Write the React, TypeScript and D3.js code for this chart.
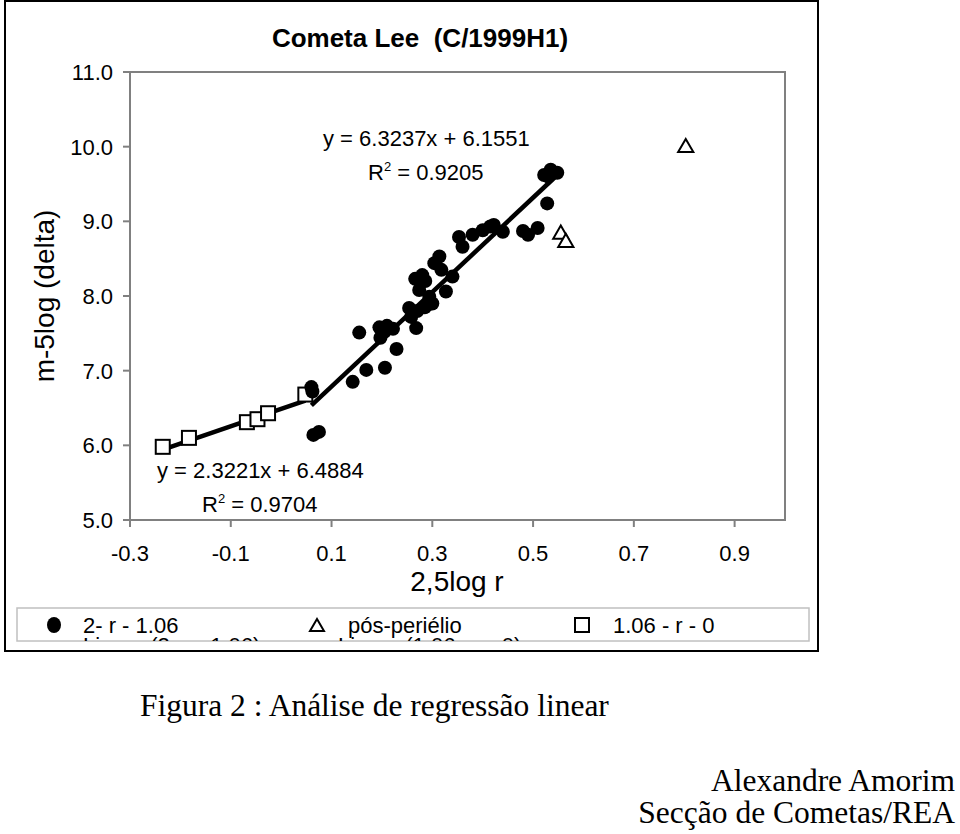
import React from "react";
import * as d3 from "d3";

const circlesX = [0.060,0.062,0.064,0.075,0.142,0.155,0.169,0.195,0.197,0.205,0.210,0.206,0.222,0.229,0.254,0.258,0.268,0.266,0.280,0.274,0.286,0.270,0.285,0.294,0.300,0.290,0.304,0.314,0.318,0.327,0.340,0.353,0.360,0.380,0.400,0.415,0.422,0.440,0.480,0.490,0.509,0.528,0.522,0.535,0.548,0.530];
const circlesY = [6.78,6.72,6.14,6.18,6.85,7.51,7.01,7.58,7.44,7.52,7.60,7.04,7.56,7.29,7.84,7.72,7.57,8.23,8.28,8.08,8.20,7.80,7.85,7.99,7.90,7.88,8.44,8.53,8.35,8.06,8.26,8.79,8.66,8.82,8.88,8.93,8.95,8.86,8.87,8.82,8.91,9.24,9.62,9.69,9.65,9.60];
const squaresX = [-0.235,-0.183,-0.068,-0.047,-0.026,0.048];
const squaresY = [5.98,6.10,6.31,6.35,6.43,6.68];
const trianglesX = [0.555,0.565,0.803];
const trianglesY = [8.84,8.73,10.0];

const fitUpper = { slope: 6.3237, intercept: 6.1551, label: "y = 6.3237x + 6.1551", r2: "0.9205" };
const fitLower = { slope: 2.3221, intercept: 6.4884, label: "y = 2.3221x + 6.4884", r2: "0.9704" };

const xTicks = [-0.3, -0.1, 0.1, 0.3, 0.5, 0.7, 0.9];
const yTicks = [5, 6, 7, 8, 9, 10, 11];

const title = "Cometa Lee  (C/1999H1)";
const xTitle = "2,5log r";
const yTitle = "m-5log (delta)";
const legendLabels = ["2- r - 1.06", "pós-periélio", "1.06 - r - 0"];
const legendLabels2 = ["Linear (2- r - 1.06)", "Linear (1.06 - r - 0)"];

const SANS = "'Liberation Sans', Arial, sans-serif";
const SERIF = "'Liberation Serif', 'Times New Roman', serif";

export default function App() {
  const left = 130, right = 785, top = 72, bottom = 520;
  const x = d3.scaleLinear().domain([-0.3, 1.0]).range([left, right]);
  const y = d3.scaleLinear().domain([5, 11]).range([bottom, top]);

  const upperExt = d3.extent(circlesX) as [number, number];
  const lowerExt = d3.extent(squaresX) as [number, number];
  const upperPath = d3.line<number>().x((v) => x(v)).y((v) => y(fitUpper.slope * v + fitUpper.intercept))(upperExt);
  const lowerPath = d3.line<number>().x((v) => x(v)).y((v) => y(fitLower.slope * v + fitLower.intercept))(lowerExt);

  const tri = d3.symbol().type(d3.symbolTriangle).size(100)();
  const triLegend = d3.symbol().type(d3.symbolTriangle).size(85)();
  const FS = 22;

  return (
    <svg width={960} height={834} style={{ position: "absolute", left: 0, top: 0, background: "#fff" }}>
      <rect x={0} y={0} width={960} height={834} fill="#fff" />
      <rect x={5} y={1} width={813} height={650} fill="none" stroke="#000" strokeWidth={2} />
      <text x={420} y={47} textAnchor="middle" fontFamily={SANS} fontWeight="bold" fontSize={26} style={{ whiteSpace: "pre" }}>{title}</text>

      <rect x={left} y={top} width={right - left} height={bottom - top} fill="none" stroke="#808080" strokeWidth={2} />
      {yTicks.map((t) => (
        <g key={"y" + t}>
          <line x1={left - 7} x2={left} y1={y(t)} y2={y(t)} stroke="#808080" strokeWidth={2} />
          <text x={113} y={y(t) + 8} textAnchor="end" fontFamily={SANS} fontSize={FS}>{t.toFixed(1)}</text>
        </g>
      ))}
      {xTicks.map((t) => (
        <g key={"x" + t}>
          <line x1={x(t)} x2={x(t)} y1={bottom} y2={bottom + 7} stroke="#808080" strokeWidth={2} />
          <text x={x(t)} y={561} textAnchor="middle" fontFamily={SANS} fontSize={FS}>{t.toFixed(1)}</text>
        </g>
      ))}
      <text x={457} y={591} textAnchor="middle" fontFamily={SANS} fontSize={28}>{xTitle}</text>
      <text transform="translate(54,296) rotate(-90)" textAnchor="middle" fontFamily={SANS} fontSize={28}>{yTitle}</text>

      <path d={lowerPath || ""} stroke="#000" strokeWidth={4.5} fill="none" />
      <path d={upperPath || ""} stroke="#000" strokeWidth={4.5} fill="none" />

      {squaresX.map((v, i) => (
        <rect key={"s" + i} x={x(v) - 7} y={y(squaresY[i]) - 7} width={14} height={14} fill="#fff" stroke="#000" strokeWidth={2} />
      ))}
      {circlesX.map((v, i) => (
        <circle key={"c" + i} cx={x(v)} cy={y(circlesY[i])} r={7} fill="#000" />
      ))}
      {trianglesX.map((v, i) => (
        <path key={"t" + i} d={tri || ""} transform={`translate(${x(v)},${y(trianglesY[i]) + 1})`} fill="#fff" stroke="#000" strokeWidth={2} />
      ))}

      <text x={323} y={146} fontFamily={SANS} fontSize={FS}>{fitUpper.label}</text>
      <text x={368} y={180} fontFamily={SANS} fontSize={FS}>R<tspan dy={-9} fontSize={13}>2</tspan><tspan dy={9}> = {fitUpper.r2}</tspan></text>
      <text x={157} y={478} fontFamily={SANS} fontSize={FS}>{fitLower.label}</text>
      <text x={202} y={512} fontFamily={SANS} fontSize={FS}>R<tspan dy={-9} fontSize={13}>2</tspan><tspan dy={9}> = {fitLower.r2}</tspan></text>

      <defs>
        <clipPath id="legclip"><rect x={17} y={608} width={792} height={33} /></clipPath>
      </defs>
      <rect x={17} y={608} width={792} height={33} fill="#fff" stroke="#c0c0c0" strokeWidth={1.5} />
      <g clipPath="url(#legclip)">
        <ellipse cx={54} cy={625} rx={7} ry={8} fill="#000" />
        <text x={83} y={633} fontFamily={SANS} fontSize={FS}>{legendLabels[0]}</text>
        <path d={triLegend || ""} transform="translate(317,627)" fill="#fff" stroke="#000" strokeWidth={2} />
        <text x={348} y={633} fontFamily={SANS} fontSize={FS}>{legendLabels[1]}</text>
        <rect x={575} y={618} width={14} height={14} fill="#fff" stroke="#000" strokeWidth={2} />
        <text x={613} y={633} fontFamily={SANS} fontSize={FS}>{legendLabels[2]}</text>
        <text x={83} y={653} fontFamily={SANS} fontSize={FS}>{legendLabels2[0]}</text>
        <text x={338} y={653} fontFamily={SANS} fontSize={FS}>{legendLabels2[1]}</text>
      </g>

      <text x={140} y={716} fontFamily={SERIF} fontSize={31.5}>Figura 2 : Análise de regressão linear</text>
      <text x={955} y={791} textAnchor="end" fontFamily={SERIF} fontSize={31.5}>Alexandre Amorim</text>
      <text x={955} y={823} textAnchor="end" fontFamily={SERIF} fontSize={31.5}>Secção de Cometas/REA</text>
    </svg>
  );
}
